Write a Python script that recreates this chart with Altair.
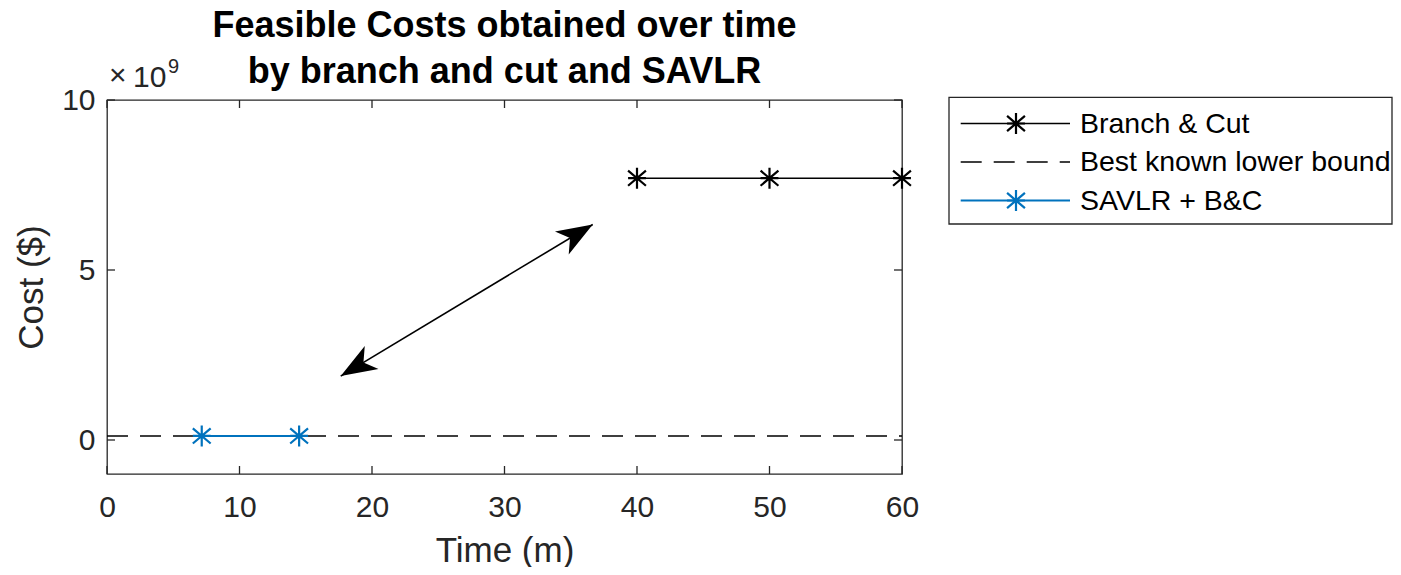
import altair as alt
import pandas as pd

# ---- data ----
bc_time = [40, 50, 60]
bc_cost = [7.70e9, 7.70e9, 7.70e9]
savlr_time = [7.15, 14.5]
savlr_cost = [0.12e9, 0.12e9]
lb_time = [0, 60]
lb_cost = [0.12e9, 0.12e9]
arrow_time = [17.64, 36.66]
arrow_cost = [1.88e9, 6.34e9]
x_ticks = [0, 10, 20, 30, 40, 50, 60]
y_ticks = [0, 5e9, 10e9]
legend_labels = ["Branch & Cut", "Best known lower bound", "SAVLR + B&C"]
title_lines = ["Feasible Costs obtained over time", "by branch and cut and SAVLR"]

W, H = 795, 374
FONT = "Liberation Sans"
AX = "#262626"
BLUE = "#0072BD"
STAR = "M0,-1V1M-0.85,0H0.85M-0.85,-0.72L0.85,0.72M-0.85,0.72L0.85,-0.72"
HEAD = "M0,0L-2,-0.74L-1.47,0L-2,0.74Z"

xs = alt.Scale(domain=[0, 60], nice=False, zero=False)
ys = alt.Scale(domain=[-1e9, 10e9], nice=False, zero=False)

xax = alt.Axis(values=x_ticks, title="Time (m)", grid=False, domain=False, ticks=False,
               labelFlush=False, labelFont=FONT, labelFontSize=30, labelColor=AX, labelPadding=18,
               titleFont=FONT, titleFontSize=35, titleColor=AX, titleFontWeight="normal",
               titlePadding=11)
yax = alt.Axis(values=y_ticks, title="Cost ($)", grid=False, domain=False, ticks=False,
               labelFlush=False, labelExpr="format(datum.value/1e9, 'd')",
               labelFont=FONT, labelFontSize=30, labelColor=AX, labelPadding=12,
               titleFont=FONT, titleFontSize=35, titleColor=AX, titleFontWeight="normal",
               titlePadding=12)

lb_df = pd.DataFrame({"t": lb_time, "c": lb_cost})
bc_df = pd.DataFrame({"t": bc_time, "c": bc_cost})
sv_df = pd.DataFrame({"t": savlr_time, "c": savlr_cost})
ar_df = pd.DataFrame({"t": arrow_time, "c": arrow_cost})
xt_df = pd.DataFrame({"v": x_ticks})
yt_df = pd.DataFrame({"v": y_ticks})

X = alt.X("t:Q", scale=xs, axis=xax)
Y = alt.Y("c:Q", scale=ys, axis=yax)

lb = alt.Chart(lb_df).mark_line(color="black", strokeWidth=1.5, strokeDash=[21, 12]).encode(x=X, y=Y)
bc_line = alt.Chart(bc_df).mark_line(color="black", strokeWidth=1.6).encode(x="t:Q", y="c:Q")
bc_pts = alt.Chart(bc_df).mark_point(shape=STAR, size=441, color="black", strokeWidth=2.2,
                                     filled=False, opacity=1).encode(x="t:Q", y="c:Q")
sv_line = alt.Chart(sv_df).mark_line(color=BLUE, strokeWidth=2).encode(x="t:Q", y="c:Q")
sv_pts = alt.Chart(sv_df).mark_point(shape=STAR, size=441, color=BLUE, strokeWidth=2.2,
                                     filled=False, opacity=1).encode(x="t:Q", y="c:Q")

ar_line = alt.Chart(ar_df).mark_line(color="black", strokeWidth=1.6).encode(x="t:Q", y="c:Q")
head_hi = alt.Chart(ar_df).transform_filter("datum.t > 30").mark_point(
    shape=HEAD, size=1300, filled=True, color="black", opacity=1, angle=329).encode(x="t:Q", y="c:Q")
head_lo = alt.Chart(ar_df).transform_filter("datum.t < 30").mark_point(
    shape=HEAD, size=1300, filled=True, color="black", opacity=1, angle=149).encode(x="t:Q", y="c:Q")

# inward ticks (MATLAB style box)
tk = dict(color=AX, strokeWidth=1.3)
xt_bot = alt.Chart(xt_df).mark_rule(**tk).encode(x=alt.X("v:Q", scale=xs), y=alt.value(H), y2=alt.value(H - 8))
xt_top = alt.Chart(xt_df).mark_rule(**tk).encode(x=alt.X("v:Q", scale=xs), y=alt.value(0), y2=alt.value(8))
yt_lft = alt.Chart(yt_df).mark_rule(**tk).encode(y=alt.Y("v:Q", scale=ys), x=alt.value(0), x2=alt.value(8))
yt_rgt = alt.Chart(yt_df).mark_rule(**tk).encode(y=alt.Y("v:Q", scale=ys), x=alt.value(W), x2=alt.value(W - 8))


def txt(s, x, y, size, weight="normal", align="left", color=AX):
    return alt.Chart(pd.DataFrame({"s": [s]})).mark_text(
        font=FONT, fontSize=size, fontWeight=weight, color=color, align=align,
        baseline="alphabetic").encode(text="s:N", x=alt.value(x), y=alt.value(y))

# exponent label
exp_x = txt("×", 2, -15, 30)
exp_base = txt("10", 26, -13, 30)
exp_pow = txt("9", 61, -27, 20)

# title
title1 = txt(title_lines[0], W / 2, -63, 36, "bold", "center", "black")
title2 = txt(title_lines[1], W / 2, -17, 36, "bold", "center", "black")

# legend
LX0, LX1 = 842, 1285
rows = [23.5, 62, 100.5]
leg_box = alt.Chart(pd.DataFrame({"a": [0]})).mark_rect(
    fill="white", stroke=AX, strokeWidth=1.3).encode(
    x=alt.value(LX0), x2=alt.value(LX1), y=alt.value(-2.7), y2=alt.value(124))
leg = [leg_box]
styles = [("black", None, True), ("black", [21, 12], False), (BLUE, None, True)]
for lab, ry, (col, dash, star) in zip(legend_labels, rows, styles):
    kw = dict(color=col, strokeWidth=1.5 if col == "black" else 2)
    if dash:
        kw["strokeDash"] = dash
    leg.append(alt.Chart(pd.DataFrame({"a": [0]})).mark_rule(**kw).encode(
        x=alt.value(853.7), x2=alt.value(963), y=alt.value(ry)))
    if star:
        leg.append(alt.Chart(pd.DataFrame({"a": [0]})).mark_point(
            shape=STAR, size=441, color=col, strokeWidth=2.2, filled=False, opacity=1).encode(
            x=alt.value(909), y=alt.value(ry)))
    leg.append(alt.Chart(pd.DataFrame({"s": [lab]})).mark_text(
        font=FONT, fontSize=28.5, color="black", align="left", baseline="middle").encode(
        text="s:N", x=alt.value(973), y=alt.value(ry)))

chart = alt.layer(
    lb, bc_line, bc_pts, sv_line, sv_pts, ar_line, head_hi, head_lo,
    xt_bot, xt_top, yt_lft, yt_rgt, exp_x, exp_base, exp_pow, title1, title2, *leg
).properties(
    width=W, height=H,
    autosize=alt.AutoSizeParams(type="none"),
    padding={"left": 99, "top": 92, "right": 491, "bottom": 93},
).configure(background="white").configure_view(stroke=AX, strokeWidth=1.3)

chart.save("out.html", embed_options={"renderer": "svg", "actions": False})
